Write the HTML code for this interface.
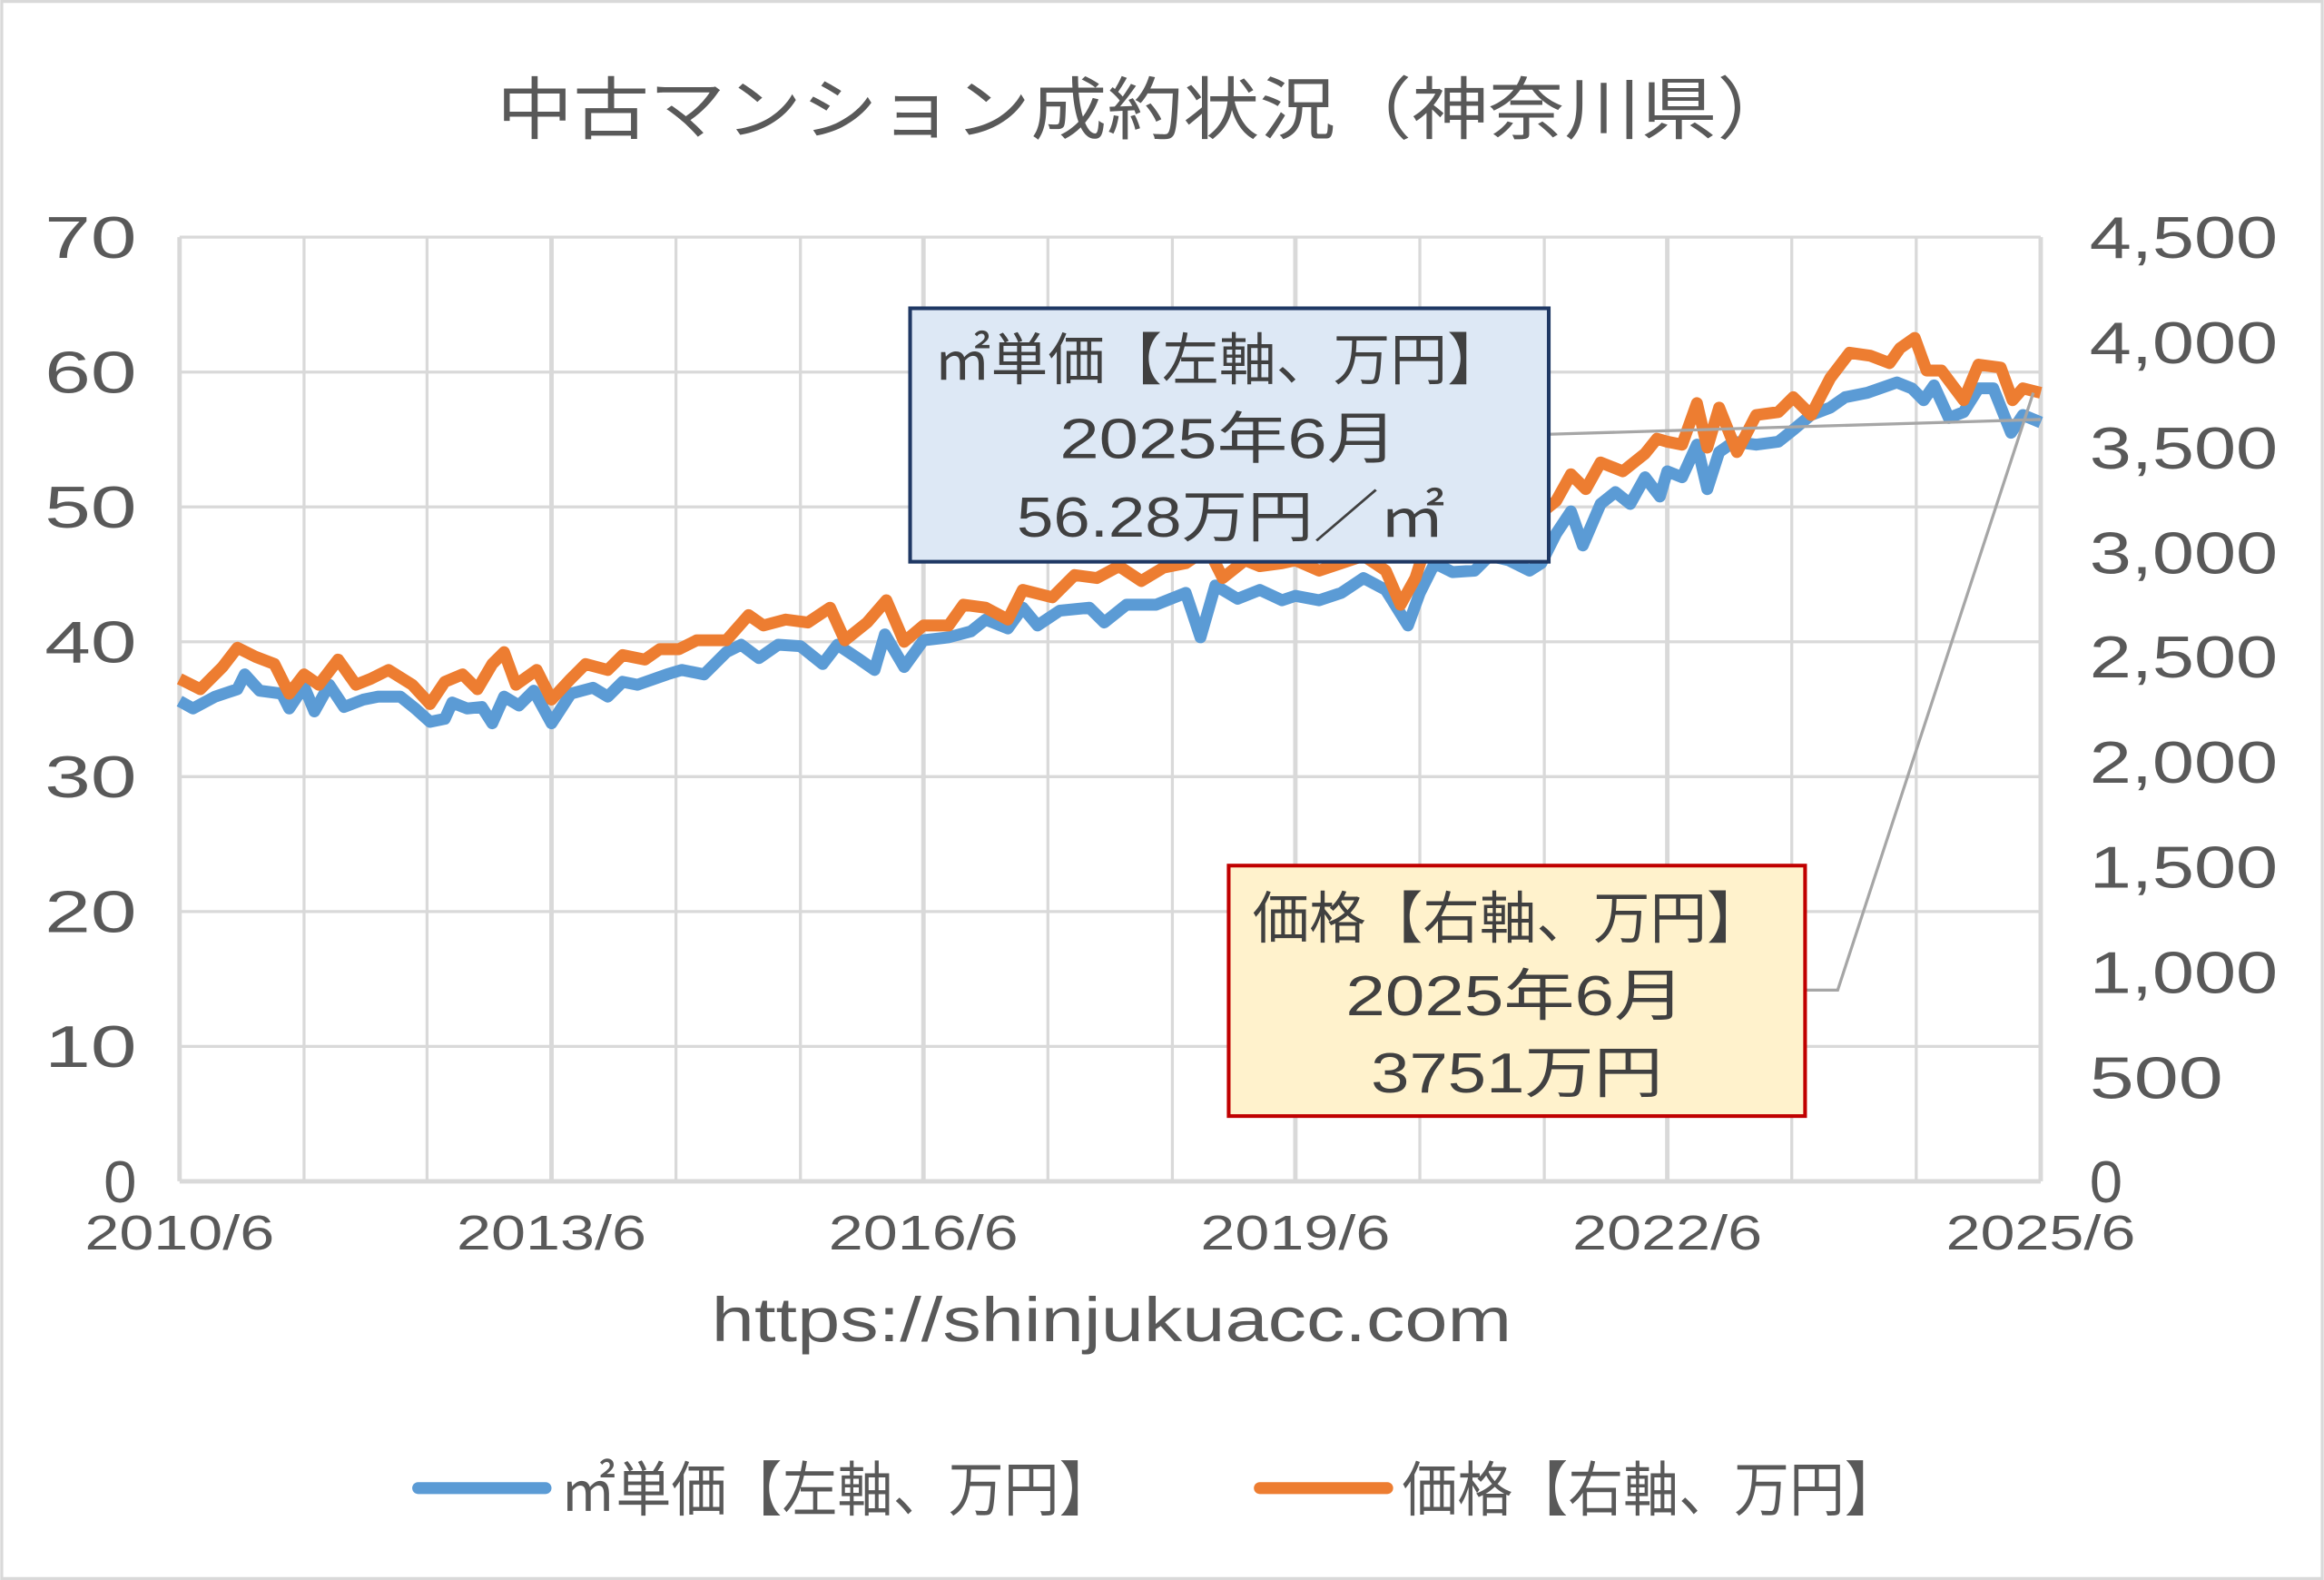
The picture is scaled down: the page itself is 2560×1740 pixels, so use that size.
<!DOCTYPE html>
<html><head><meta charset="utf-8"><style>
html,body{margin:0;padding:0;background:#fff}
svg{display:block}
text{font-family:"Liberation Sans","Noto Sans CJK JP",sans-serif;fill:#595959}
</style></head><body>
<svg width="2560" height="1740" viewBox="0 0 1568 1066" xmlns="http://www.w3.org/2000/svg">
<rect x="1" y="1" width="1566" height="1064" fill="#fff" stroke="#d9d9d9" stroke-width="2"/>
<text x="335" y="90" font-size="46" textLength="875" lengthAdjust="spacingAndGlyphs">中古マンション成約状況（神奈川県）</text>
<g stroke="#d9d9d9" stroke-width="2">
<line x1="121" y1="160" x2="1377" y2="160"/><line x1="121" y1="251" x2="1377" y2="251"/>
<line x1="121" y1="342" x2="1377" y2="342"/><line x1="121" y1="433" x2="1377" y2="433"/>
<line x1="121" y1="524" x2="1377" y2="524"/><line x1="121" y1="615" x2="1377" y2="615"/>
<line x1="121" y1="706" x2="1377" y2="706"/>
<line x1="205" y1="160" x2="205" y2="797"/><line x1="288" y1="160" x2="288" y2="797"/>
<line x1="372" y1="160" x2="372" y2="797" stroke-width="3"/><line x1="456" y1="160" x2="456" y2="797"/>
<line x1="540" y1="160" x2="540" y2="797"/><line x1="623" y1="160" x2="623" y2="797" stroke-width="3"/>
<line x1="707" y1="160" x2="707" y2="797"/><line x1="791" y1="160" x2="791" y2="797"/>
<line x1="874" y1="160" x2="874" y2="797" stroke-width="3"/><line x1="958" y1="160" x2="958" y2="797"/>
<line x1="1042" y1="160" x2="1042" y2="797"/><line x1="1125" y1="160" x2="1125" y2="797" stroke-width="3"/>
<line x1="1209" y1="160" x2="1209" y2="797"/><line x1="1293" y1="160" x2="1293" y2="797"/>
<line x1="1377" y1="160" x2="1377" y2="797" stroke-width="3"/>
<line x1="121" y1="160" x2="121" y2="797" stroke-width="3"/>
<line x1="121" y1="797" x2="1377" y2="797" stroke-width="3"/>
</g>
<g font-size="40" text-anchor="end">
<text x="92" y="174" textLength="62" lengthAdjust="spacingAndGlyphs">70</text><text x="92" y="265" textLength="62" lengthAdjust="spacingAndGlyphs">60</text><text x="92" y="356" textLength="62" lengthAdjust="spacingAndGlyphs">50</text>
<text x="92" y="447" textLength="62" lengthAdjust="spacingAndGlyphs">40</text><text x="92" y="538" textLength="62" lengthAdjust="spacingAndGlyphs">30</text><text x="92" y="629" textLength="62" lengthAdjust="spacingAndGlyphs">20</text>
<text x="92" y="720" textLength="62" lengthAdjust="spacingAndGlyphs">10</text><text x="92" y="811">0</text>
</g>
<g font-size="40" text-anchor="start">
<text x="1410" y="174" textLength="127" lengthAdjust="spacingAndGlyphs">4,500</text><text x="1410" y="245" textLength="127" lengthAdjust="spacingAndGlyphs">4,000</text><text x="1410" y="316" textLength="127" lengthAdjust="spacingAndGlyphs">3,500</text>
<text x="1410" y="387" textLength="127" lengthAdjust="spacingAndGlyphs">3,000</text><text x="1410" y="457" textLength="127" lengthAdjust="spacingAndGlyphs">2,500</text><text x="1410" y="528" textLength="127" lengthAdjust="spacingAndGlyphs">2,000</text>
<text x="1410" y="599" textLength="127" lengthAdjust="spacingAndGlyphs">1,500</text><text x="1410" y="670" textLength="127" lengthAdjust="spacingAndGlyphs">1,000</text><text x="1410" y="741" textLength="90" lengthAdjust="spacingAndGlyphs">500</text>
<text x="1410" y="811">0</text>
</g>
<g font-size="33">
<text x="57" y="843" textLength="128" lengthAdjust="spacingAndGlyphs">2010/6</text><text x="308" y="843" textLength="128" lengthAdjust="spacingAndGlyphs">2013/6</text><text x="559" y="843" textLength="128" lengthAdjust="spacingAndGlyphs">2016/6</text>
<text x="810" y="843" textLength="128" lengthAdjust="spacingAndGlyphs">2019/6</text><text x="1061" y="843" textLength="128" lengthAdjust="spacingAndGlyphs">2022/6</text><text x="1313" y="843" textLength="128" lengthAdjust="spacingAndGlyphs">2025/6</text>
</g>
<text x="480" y="905" font-size="42" textLength="540" lengthAdjust="spacingAndGlyphs">https://shinjukuacc.com</text>
<polyline fill="none" stroke="#5b9bd5" stroke-width="8" stroke-linejoin="round" points="121,473 130,478 145,470 160,465 165,455 175,466 190,468 195,478 205,463 212,480 222,462 232,477 245,472 255,470 270,470 280,478 290,487 300,485 305,474 315,478 325,477 332,488 340,470 350,476 360,466 372,488 385,468 400,464 410,470 420,460 430,462 450,455 460,452 475,455 490,440 500,435 512,444 525,435 540,436 555,448 565,435 580,445 590,452 597,428 610,450 623,432 640,430 655,426 665,418 680,424 690,410 700,422 715,412 735,410 745,420 760,408 780,408 800,400 810,430 820,395 835,404 850,398 865,405 874,402 890,405 905,400 920,390 935,398 950,422 958,400 968,380 980,386 995,385 1005,375 1018,378 1032,385 1040,380 1050,360 1060,345 1068,368 1080,340 1090,332 1100,340 1110,322 1120,335 1125,318 1135,322 1145,300 1152,330 1160,305 1170,298 1185,300 1200,298 1210,290 1222,280 1235,275 1245,268 1260,265 1280,258 1290,262 1298,270 1305,260 1315,282 1325,278 1335,262 1345,262 1357,292 1365,280 1377,285"/>
<polyline fill="none" stroke="#ed7d31" stroke-width="8" stroke-linejoin="round" points="121,458 135,465 150,450 160,437 172,443 185,448 195,468 205,455 215,462 228,445 240,462 250,458 262,452 278,462 290,475 300,460 312,455 322,465 332,448 340,440 348,462 362,452 372,472 385,458 395,448 410,452 420,442 435,445 445,438 458,438 470,432 490,432 505,415 515,422 530,418 545,420 560,410 570,432 585,420 598,405 610,433 623,422 640,422 650,408 665,410 680,418 690,398 710,403 725,388 740,390 755,382 770,392 785,383 800,380 815,370 825,390 840,378 850,382 865,380 874,378 890,385 905,380 920,375 935,385 945,408 955,390 962,368 975,372 990,360 1005,358 1018,350 1032,355 1040,346 1050,338 1060,320 1070,330 1080,312 1095,318 1110,306 1118,296 1125,298 1135,300 1145,272 1152,302 1160,275 1172,305 1185,280 1200,278 1210,268 1222,280 1235,255 1248,238 1262,240 1275,245 1282,235 1292,228 1300,250 1310,250 1325,270 1335,246 1350,248 1358,270 1365,262 1377,265"/>
<polyline fill="none" stroke="#a6a6a6" stroke-width="2" points="1045,293 1377,283"/>
<polyline fill="none" stroke="#a6a6a6" stroke-width="2" points="1218,668 1240,668 1372,265"/>
<rect x="614" y="208" width="431" height="171" fill="#dde8f5" stroke="#1f3864" stroke-width="2.5"/>
<g font-size="38">
<text x="630" y="256" style="fill:#404040" textLength="385" lengthAdjust="spacingAndGlyphs">㎡単価【左軸、万円】</text>
<text x="715" y="309" style="fill:#404040" textLength="228" lengthAdjust="spacingAndGlyphs">2025年6月</text>
<text x="686" y="362" style="fill:#404040" textLength="289" lengthAdjust="spacingAndGlyphs">56.28万円／㎡</text>
</g>
<rect x="829" y="584" width="389" height="169" fill="#fff2cc" stroke="#c00000" stroke-width="2.5"/>
<g font-size="38">
<text x="845" y="633" style="fill:#404040" textLength="345" lengthAdjust="spacingAndGlyphs">価格【右軸、万円】</text>
<text x="908" y="685" style="fill:#404040" textLength="229" lengthAdjust="spacingAndGlyphs">2025年6月</text>
<text x="925" y="737" style="fill:#404040" textLength="197" lengthAdjust="spacingAndGlyphs">3751万円</text>
</g>
<line x1="282" y1="1004" x2="368" y2="1004" stroke="#5b9bd5" stroke-width="8" stroke-linecap="round"/>
<text x="378" y="1019" font-size="40" textLength="374" lengthAdjust="spacingAndGlyphs">㎡単価【左軸、万円】</text>
<line x1="850" y1="1004" x2="936" y2="1004" stroke="#ed7d31" stroke-width="8" stroke-linecap="round"/>
<text x="946" y="1019" font-size="40" textLength="336" lengthAdjust="spacingAndGlyphs">価格【右軸、万円】</text>
</svg>
</body></html>
